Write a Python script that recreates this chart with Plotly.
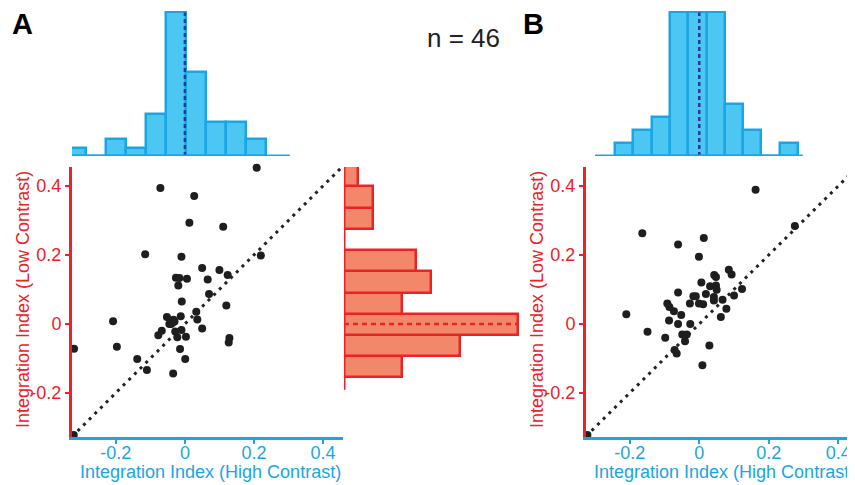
import plotly.graph_objects as go

# ---------------- DATA ----------------
# Panel A scatter: Integration index, high contrast (x) vs low contrast (y)
a_high = [0.208, -0.071, 0.027, 0.013, 0.111, -0.115, -0.010, 0.220, 0.050, 0.100,
          0.124, -0.026, -0.016, 0.006, 0.066, -0.019, 0.070, -0.009, 0.120, 0.033,
          -0.052, -0.012, -0.033, -0.208, 0.036, -0.045, -0.036, -0.030, 0.050, -0.067,
          -0.028, -0.010, -0.077, -0.022, 0.003, 0.129, 0.127, -0.321, -0.197, -0.014,
          -0.138, 0.001, -0.110, -0.034, -0.322, -0.040]
a_low = [0.453, 0.394, 0.371, 0.293, 0.282, 0.202, 0.195, 0.198, 0.162, 0.156,
         0.142, 0.134, 0.133, 0.131, 0.129, 0.111, 0.087, 0.065, 0.053, 0.035,
         0.020, 0.022, 0.012, 0.008, 0.013, 0.000, 0.003, 0.007, -0.013, -0.020,
         -0.022, -0.018, -0.033, -0.039, -0.037, -0.041, -0.054, -0.072, -0.066, -0.073,
         -0.102, -0.102, -0.134, -0.144, -0.322, 0.000]

# Panel B scatter
b_high = [0.162, -0.164, 0.013, -0.061, -0.001, 0.275, 0.085, 0.093, 0.043, 0.048,
          0.006, 0.031, 0.048, 0.050, 0.123, -0.061, 0.019, 0.100, -0.017, -0.010,
          0.042, 0.042, 0.067, -0.092, -0.027, -0.001, 0.011, -0.086, -0.073, 0.078,
          -0.052, -0.210, 0.062, -0.087, -0.061, -0.026, -0.149, -0.049, -0.036, -0.098,
          -0.041, 0.029, -0.071, -0.065, 0.009, -0.322]
b_low = [0.389, 0.263, 0.249, 0.230, 0.195, 0.284, 0.157, 0.143, 0.142, 0.136,
         0.120, 0.109, 0.111, 0.099, 0.101, 0.091, 0.087, 0.082, 0.080, 0.080,
         0.078, 0.068, 0.070, 0.059, 0.059, 0.059, 0.057, 0.049, 0.037, 0.044,
         0.026, 0.028, 0.020, 0.010, 0.000, 0.000, -0.023, -0.031, -0.031, -0.040,
         -0.050, -0.063, -0.076, -0.086, -0.120, -0.322]

# Histograms (counts per bin)
a_top_edges = [-0.345, -0.287, -0.229, -0.171, -0.113, -0.055, 0.003, 0.061, 0.119, 0.177, 0.235]
a_top_counts = [1, 0, 2, 1, 5, 17, 10, 4, 4, 2]
a_right_edges = [-0.155, -0.0935, -0.032, 0.0295, 0.091, 0.1525, 0.214, 0.2755, 0.337, 0.3985, 0.46]
a_right_counts = [4, 8, 12, 4, 6, 5, 0, 2, 2, 1]
b_top_edges = [-0.243, -0.190, -0.137, -0.085, -0.032, 0.021, 0.074, 0.127, 0.179, 0.232, 0.285]
b_top_counts = [1, 2, 3, 11, 11, 11, 4, 2, 0, 1]

a_median_high = 0.0
a_median_low = 0.0
b_median_high = 0.0

tick_vals = [-0.2, 0, 0.2, 0.4]
tick_text = ["-0.2", "0", "0.2", "0.4"]
n_cells = 46

# ---------------- STYLE / LAYOUT ----------------
OFF = 8                      # page body margin of the browser
W, H = 855 - OFF, 485 - OFF
BLUE = "#1ba6e3"
BLUE_FILL = "#4cc6f2"
RED = "#ec2227"
RED_FILL = "#f2876a"
NAVY = "#2b3990"
FONT = "Liberation Sans, Arial, sans-serif"

def fx(p):
    return (p - OFF) / W

def fy(p):
    return 1 - (p - OFF) / H

def centers(edges):
    return [(edges[i] + edges[i + 1]) / 2 for i in range(len(edges) - 1)]

def widths(edges):
    return [edges[i + 1] - edges[i] for i in range(len(edges) - 1)]

a_xr = [-0.327, 0.458]
a_yr = [-0.328, 0.455]
b_xr = [-0.326, -0.326 + (855 - 586) / 347.5]

fig = go.Figure()

# ---- Panel A scatter ----
fig.add_trace(go.Scatter(x=[a_xr[0], a_xr[1]], y=[a_xr[0], a_xr[1]], mode="lines",
                         line=dict(color="#222222", width=3, dash="3px,5px"),
                         xaxis="x", yaxis="y", hoverinfo="skip", cliponaxis=False))
fig.add_trace(go.Scatter(x=a_high, y=a_low, mode="markers",
                         marker=dict(color="#1e1e1e", size=8),
                         xaxis="x", yaxis="y", cliponaxis=False))

# ---- Panel A top histogram ----
fig.add_trace(go.Bar(x=centers(a_top_edges), y=a_top_counts, width=widths(a_top_edges),
                     marker=dict(color=BLUE_FILL, line=dict(color=BLUE, width=2.5)),
                     xaxis="x2", yaxis="y2"))
fig.add_trace(go.Scatter(x=[a_median_high, a_median_high], y=[0, max(a_top_counts)], mode="lines",
                         line=dict(color=NAVY, width=2.5, dash="4px,3px"),
                         xaxis="x2", yaxis="y2"))

# ---- Panel A right histogram ----
fig.add_trace(go.Bar(y=centers(a_right_edges), x=a_right_counts, width=widths(a_right_edges),
                     orientation="h",
                     marker=dict(color=RED_FILL, line=dict(color=RED, width=2.5)),
                     xaxis="x3", yaxis="y3"))
fig.add_trace(go.Scatter(x=[0, max(a_right_counts)], y=[a_median_low, a_median_low], mode="lines",
                         line=dict(color=RED, width=2.5, dash="5px,4px"),
                         xaxis="x3", yaxis="y3"))

# ---- Panel B scatter ----
fig.add_trace(go.Scatter(x=[b_xr[0], b_xr[1]], y=[b_xr[0], b_xr[1]], mode="lines",
                         line=dict(color="#222222", width=3, dash="3px,5px"),
                         xaxis="x4", yaxis="y4", hoverinfo="skip", cliponaxis=False))
fig.add_trace(go.Scatter(x=b_high, y=b_low, mode="markers",
                         marker=dict(color="#1e1e1e", size=8),
                         xaxis="x4", yaxis="y4", cliponaxis=False))

# ---- Panel B top histogram ----
fig.add_trace(go.Bar(x=centers(b_top_edges), y=b_top_counts, width=widths(b_top_edges),
                     marker=dict(color=BLUE_FILL, line=dict(color=BLUE, width=2.5)),
                     xaxis="x5", yaxis="y5"))
fig.add_trace(go.Scatter(x=[b_median_high, b_median_high], y=[0, max(b_top_counts)], mode="lines",
                         line=dict(color=NAVY, width=2.5, dash="4px,3px"),
                         xaxis="x5", yaxis="y5"))

main_y_dom = [fy(437), fy(167)]
top_y_dom = [fy(156), fy(11)]
a_x_dom = [fx(72), fx(343)]
b_x_dom = [fx(586), 1.0]

def xmain(dom, rng):
    return dict(domain=dom, range=rng, showline=True, linecolor=BLUE, linewidth=3,
                ticks="outside", ticklen=4, tickwidth=2, tickcolor=BLUE,
                tickvals=tick_vals, ticktext=tick_text, showgrid=False, zeroline=False,
                ticklabelstandoff=-7,
                tickfont=dict(family=FONT, size=18, color=BLUE))

def ymain(dom, rng, anchor):
    return dict(domain=dom, range=rng, showline=True, linecolor=RED, linewidth=3,
                ticks="outside", ticklen=4, tickwidth=2, tickcolor=RED,
                tickvals=tick_vals, ticktext=tick_text, showgrid=False, zeroline=False,
                tickfont=dict(family=FONT, size=18, color=RED), anchor=anchor)

hidden = dict(visible=False, showgrid=False, zeroline=False)

fig.update_layout(
    width=W, height=H, margin=dict(l=0, r=0, t=0, b=0),
    paper_bgcolor="white", plot_bgcolor="white", showlegend=False,
    bargap=0,
    xaxis=xmain(a_x_dom, a_xr) | dict(anchor="y"),
    yaxis=ymain(main_y_dom, a_yr, "x"),
    xaxis2=dict(hidden, domain=a_x_dom, range=a_xr, anchor="y2"),
    yaxis2=dict(hidden, domain=top_y_dom, range=[0, max(a_top_counts) * 1.01], anchor="x2"),
    xaxis3=dict(hidden, domain=[fx(344), fx(521)], range=[0, max(a_right_counts) * 1.02], anchor="y3"),
    yaxis3=dict(hidden, domain=main_y_dom, range=a_yr, anchor="x3"),
    xaxis4=xmain(b_x_dom, b_xr) | dict(anchor="y4"),
    yaxis4=ymain(main_y_dom, a_yr, "x4"),
    xaxis5=dict(hidden, domain=b_x_dom, range=b_xr, anchor="y5"),
    yaxis5=dict(hidden, domain=top_y_dom, range=[0, max(b_top_counts) * 1.01], anchor="x5"),
)

shapes = [
    # top histogram baselines
    dict(type="line", xref="x2", yref="y2", x0=a_xr[0], x1=0.304, y0=0, y1=0,
         line=dict(color=BLUE, width=3)),
    dict(type="line", xref="x5", yref="y5", x0=-0.300, x1=0.298, y0=0, y1=0,
         line=dict(color=BLUE, width=3)),
    # right histogram axis line (A)
    dict(type="line", xref="x3", yref="y3", x0=0, x1=0, y0=-0.191, y1=a_yr[1],
         line=dict(color=RED, width=3)),
    # partial right histogram axis of B at the edge
    dict(type="line", xref="paper", yref="paper", x0=fx(853.5), x1=fx(853.5),
         y0=fy(393), y1=fy(183), line=dict(color="#f6b8a6", width=1.5)),
]
fig.update_layout(shapes=shapes)

annotations = [
    dict(text="<b>A</b>", x=fx(10), y=fy(24), xref="paper", yref="paper", xanchor="left",
         yanchor="middle", showarrow=False, font=dict(family=FONT, size=29, color="black")),
    dict(text="<b>B</b>", x=fx(521), y=fy(24), xref="paper", yref="paper", xanchor="left",
         yanchor="middle", showarrow=False, font=dict(family=FONT, size=29, color="black")),
    dict(text=f"n = {n_cells}", x=fx(463), y=fy(38), xref="paper", yref="paper",
         xanchor="center", yanchor="middle", showarrow=False,
         font=dict(family=FONT, size=26, color="#222222")),
    # x titles
    dict(text="Integration Index (High Contrast)", x=fx(210), y=fy(472), xref="paper", yref="paper",
         xanchor="center", yanchor="middle", showarrow=False,
         font=dict(family=FONT, size=18, color=BLUE)),
    dict(text="Integration Index (High Contrast)", x=fx(724), y=fy(472), xref="paper", yref="paper",
         xanchor="center", yanchor="middle", showarrow=False,
         font=dict(family=FONT, size=18, color=BLUE)),
    # y titles
    dict(text="Integration Index (Low Contrast)", x=fx(23), y=fy(300), xref="paper", yref="paper",
         xanchor="center", yanchor="middle", showarrow=False, textangle=-90,
         font=dict(family=FONT, size=18, color=RED)),
    dict(text="Integration Index (Low Contrast)", x=fx(537), y=fy(300), xref="paper", yref="paper",
         xanchor="center", yanchor="middle", showarrow=False, textangle=-90,
         font=dict(family=FONT, size=18, color=RED)),
]
fig.update_layout(annotations=annotations)

fig.write_html("out.html")
